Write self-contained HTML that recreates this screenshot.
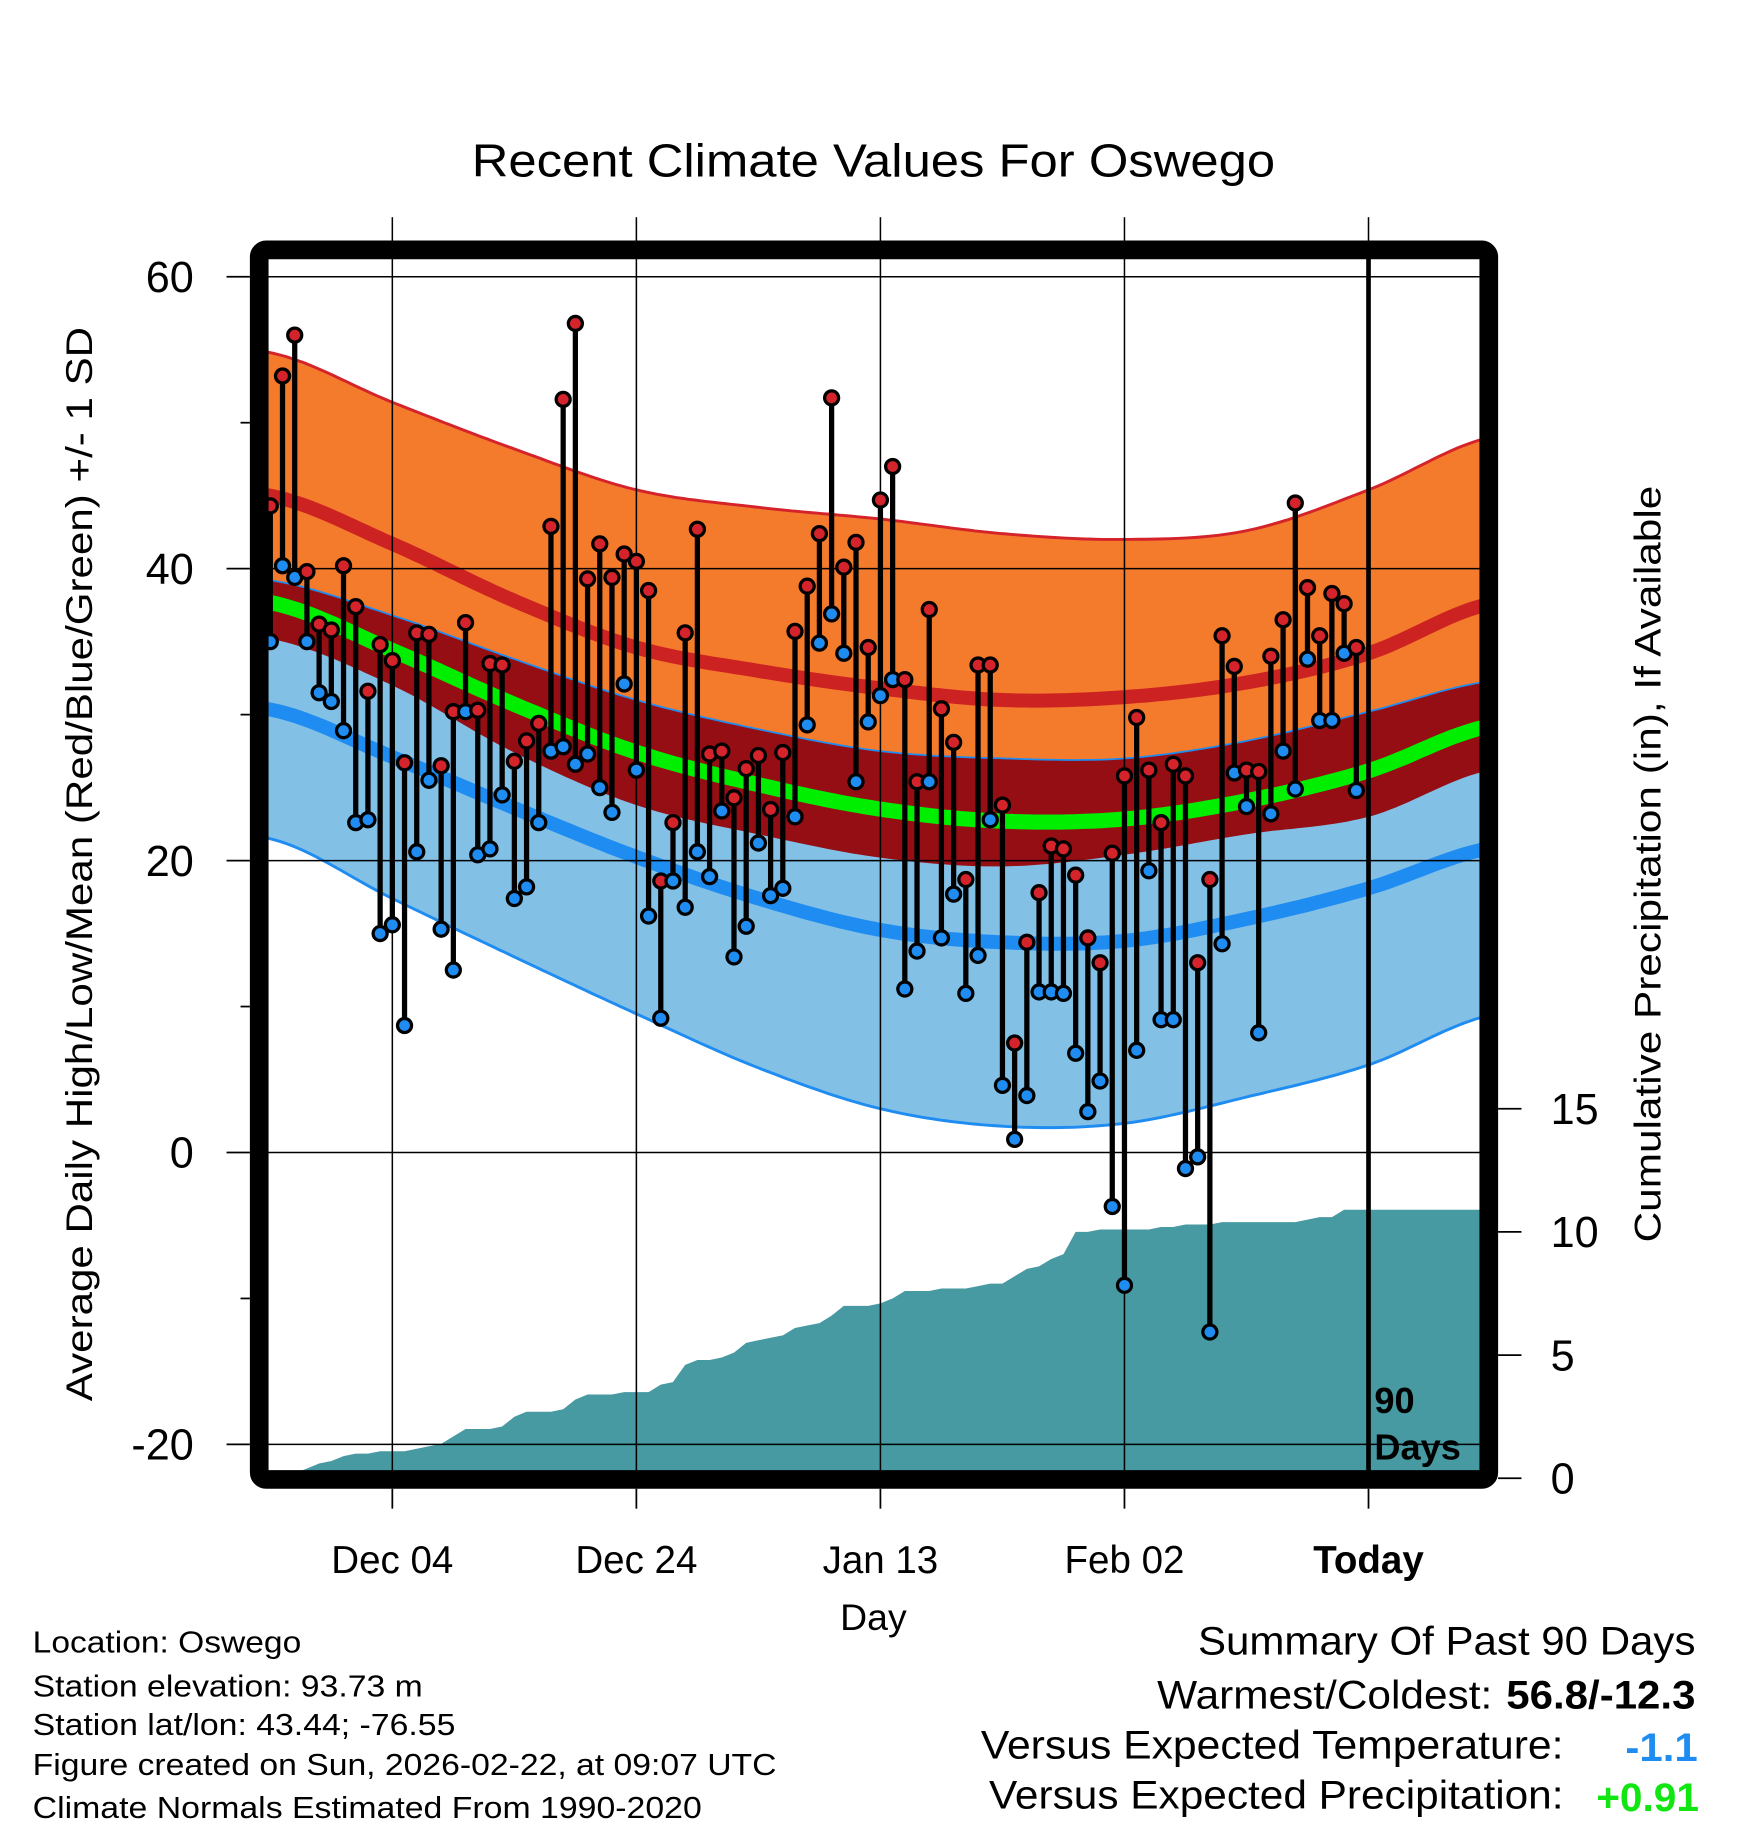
<!DOCTYPE html>
<html><head><meta charset="utf-8"><style>
html,body{margin:0;padding:0;background:#fff;}
svg{display:block;font-family:"Liberation Sans",sans-serif;}
</style></head><body>
<svg id="chart" width="1748" height="1828" viewBox="0 0 1497 1565.5" preserveAspectRatio="none" xmlns="http://www.w3.org/2000/svg">
<text x="748" y="151" font-size="40" text-anchor="middle" textLength="688" lengthAdjust="spacingAndGlyphs">Recent Climate Values For Oswego</text>
<g id="plot"></g>
<text transform="translate(79,740) rotate(-90)" font-size="32" text-anchor="middle" textLength="920" lengthAdjust="spacingAndGlyphs">Average Daily High/Low/Mean (Red/Blue/Green) +/- 1 SD</text>
<text transform="translate(1422,740) rotate(-90)" font-size="32" text-anchor="middle" textLength="648" lengthAdjust="spacingAndGlyphs">Cumulative Precipitation (in), If Available</text>
<text x="748" y="1396" font-size="32" text-anchor="middle">Day</text>
<g font-size="26">
<text x="28" y="1415" textLength="230" lengthAdjust="spacingAndGlyphs">Location: Oswego</text>
<text x="28" y="1453" textLength="334" lengthAdjust="spacingAndGlyphs">Station elevation: 93.73 m</text>
<text x="28" y="1486" textLength="362" lengthAdjust="spacingAndGlyphs">Station lat/lon: 43.44; -76.55</text>
<text x="28" y="1520" textLength="637" lengthAdjust="spacingAndGlyphs">Figure created on Sun, 2026-02-22, at 09:07 UTC</text>
<text x="28" y="1557" textLength="573" lengthAdjust="spacingAndGlyphs">Climate Normals Estimated From 1990-2020</text>
</g>
<g font-size="34">
<text x="1452" y="1417" text-anchor="end" textLength="426" lengthAdjust="spacingAndGlyphs">Summary Of Past 90 Days</text>
<text x="1278" y="1463" text-anchor="end" textLength="287" lengthAdjust="spacingAndGlyphs">Warmest/Coldest:</text>
<text x="1452" y="1463" text-anchor="end" font-weight="bold" textLength="162" lengthAdjust="spacingAndGlyphs">56.8/-12.3</text>
<text x="1339" y="1506" text-anchor="end" textLength="499" lengthAdjust="spacingAndGlyphs">Versus Expected Temperature:</text>
<text x="1454" y="1508" text-anchor="end" font-weight="bold" fill="#1e8cf0" textLength="62" lengthAdjust="spacingAndGlyphs">-1.1</text>
<text x="1339" y="1549" text-anchor="end" textLength="492" lengthAdjust="spacingAndGlyphs">Versus Expected Precipitation:</text>
<text x="1455" y="1551" text-anchor="end" font-weight="bold" fill="#12e612" textLength="88" lengthAdjust="spacingAndGlyphs">+0.91</text>
</g>
</svg>
<script>
// Normals at knots every 10 days starting Nov 24 (day 0)
const knotDays = [0,10,20,30,40,50,60,70,80,90,100];
const highMean = [45.0,41.7,37.8,34.6,33.0,31.8,31.0,31.2,32.2,34.2,37.6];
const highSD   = [9.8,9.7,10.4,10.8,11.2,11.6,11.4,10.8,10.4,11.2,11.4];
const lowMean  = [30.35,27.1,23.6,20.25,17.4,15.25,14.4,14.5,16.0,18.1,20.85];
const lowSD    = [8.85,9.7,10.2,10.75,11.6,12.25,12.6,12.5,12.2,12.1,11.45];
// Daily observations Nov 24 .. Feb 21
const highs = [44.3,53.2,56.0,39.8,36.2,35.8,40.2,37.4,31.6,34.8,33.7,26.7,35.6,35.5,26.5,30.2,36.3,30.3,33.5,33.4,26.8,28.2,29.4,42.9,51.6,56.8,39.3,41.7,39.4,41.0,40.5,38.5,18.6,22.6,35.6,42.7,27.3,27.5,24.3,26.3,27.2,23.5,27.4,35.7,38.8,42.4,51.7,40.1,41.8,34.6,44.7,47.0,32.4,25.4,37.2,30.4,28.1,18.7,33.4,33.4,23.8,7.5,14.4,17.8,21.0,20.8,19.0,14.7,13.0,20.5,25.8,29.8,26.2,22.6,26.6,25.8,13.0,18.7,35.4,33.3,26.2,26.1,34.0,36.5,44.5,38.7,35.4,38.3,37.6,34.6];
const lows  = [35.0,40.2,39.4,35.0,31.5,30.9,28.9,22.6,22.8,15.0,15.6,8.7,20.6,25.5,15.3,12.5,30.2,20.4,20.8,24.5,17.4,18.2,22.6,27.5,27.8,26.6,27.3,25.0,23.3,32.1,26.2,16.2,9.2,18.6,16.8,20.6,18.9,23.4,13.4,15.5,21.2,17.6,18.1,23.0,29.3,34.9,36.9,34.2,25.4,29.5,31.3,32.4,11.2,13.8,25.4,14.7,17.7,10.9,13.5,22.8,4.6,0.9,3.9,11.0,11.0,10.9,6.8,2.8,4.9,-3.7,-9.1,7.0,19.3,9.1,9.1,-1.1,-0.3,-12.3,14.3,26.0,23.7,8.2,23.2,27.5,24.9,33.8,29.6,29.6,34.2,24.8];
const precip = [0.0,0.1,0.2,0.4,0.6,0.7,0.9,1.0,1.0,1.1,1.1,1.1,1.2,1.3,1.4,1.7,2.0,2.0,2.0,2.1,2.5,2.7,2.7,2.7,2.8,3.2,3.4,3.4,3.4,3.5,3.5,3.5,3.8,3.9,4.6,4.8,4.8,4.9,5.1,5.5,5.6,5.7,5.8,6.1,6.2,6.3,6.6,7.0,7.0,7.0,7.1,7.3,7.6,7.6,7.6,7.7,7.7,7.7,7.8,7.9,7.9,8.2,8.5,8.6,8.9,9.1,10.0,10.0,10.1,10.1,10.1,10.1,10.1,10.2,10.2,10.3,10.3,10.3,10.4,10.4,10.4,10.4,10.4,10.4,10.4,10.5,10.6,10.6,10.9,10.9];
const yTicks = [60,40,20,0,-20];
const yMinor = [50,30,10,-10];
const pTicks = [0,5,10,15];
const xTickDays = [10,30,50,70,90];
const xTickLabels = ["Dec 04","Dec 24","Jan 13","Feb 02","Today"];

const NS="http://www.w3.org/2000/svg";
const X0=229, X1=1270, Y0=216, Y1=1260;
const xs = d => 231.5 + 10.45*d;
const ys = v => 987 - 12.5*v;
const yp = p => 1266 - 21.1*p;
const g = document.getElementById('plot');
function el(tag, attrs, parent){const e=document.createElementNS(NS,tag);for(const k in attrs)e.setAttribute(k,attrs[k]);(parent||g).appendChild(e);return e;}
function interp(arr,d){
  let i=Math.floor(d/10); if(i<0)i=0; if(i>knotDays.length-2)i=knotDays.length-2;
  const t=(d-knotDays[i])/10;
  const p0=arr[Math.max(i-1,0)],p1=arr[i],p2=arr[i+1],p3=arr[Math.min(i+2,arr.length-1)];
  return 0.5*((2*p1)+(-p0+p2)*t+(2*p0-5*p1+4*p2-p3)*t*t+(-p0+3*p1-3*p2+p3)*t*t*t);
}
const dStart=(X0-231.5)/10.45, dEnd=(X1-231.5)/10.45;
function curve(fn){const pts=[];for(let d=dStart;d<=dEnd+0.001;d+=0.5)pts.push([xs(d),ys(fn(d))]);return pts;}
const hiTop=curve(d=>interp(highMean,d)+interp(highSD,d));
const hiMid=curve(d=>interp(highMean,d));
const hiBot=curve(d=>interp(highMean,d)-interp(highSD,d));
const loTop=curve(d=>interp(lowMean,d)+interp(lowSD,d));
const loMid=curve(d=>interp(lowMean,d));
const loBot=curve(d=>interp(lowMean,d)-interp(lowSD,d));
const mean=curve(d=>(interp(highMean,d)+interp(lowMean,d))/2);
const P=a=>a.map(p=>p[0].toFixed(1)+','+p[1].toFixed(1)).join(' ');
const band=(a,b)=>P(a)+' '+P(b.slice().reverse());

const clip=el('clipPath',{id:'pc'});el('rect',{x:X0,y:Y0,width:X1-X0,height:Y1-Y0},clip);
const inner=el('g',{'clip-path':'url(#pc)'});
let e;
e=el('polygon',{points:band(hiTop,hiBot),fill:'#f47a2c'},inner);


e=el('polygon',{points:band(loTop,loBot),fill:'#82c0e6'},inner);


e=el('polygon',{points:band(loTop,hiBot),fill:'#940e14'},inner);


el('polyline',{points:P(hiTop),fill:'none',stroke:'#d4232a','stroke-width':2.5},inner);
el('polyline',{points:P(loTop),fill:'none',stroke:'#1e8cf0','stroke-width':1.5},inner);
el('polyline',{points:P(loBot),fill:'none',stroke:'#1e8cf0','stroke-width':2.5},inner);
e=el('polyline',{points:P(hiMid),fill:'none',stroke:'#cc2222','stroke-width':12},inner);


e=el('polyline',{points:P(loMid),fill:'none',stroke:'#1e8cf0','stroke-width':12},inner);


e=el('polyline',{points:P(mean),fill:'none',stroke:'#00ee00','stroke-width':13},inner);


let pp=[[xs(0),yp(0)]];
precip.forEach((v,i)=>pp.push([xs(i),yp(v)]));
pp.push([X1,yp(precip[precip.length-1])]);pp.push([X1,yp(0)]);
e=el('polygon',{points:P(pp),fill:'#4799a2'},inner);


yTicks.forEach(v=>{el('line',{x1:X0,x2:X1,y1:ys(v),y2:ys(v),stroke:'#000','stroke-width':1.3},inner);});
xTickDays.forEach((d,i)=>{if(i<4)el('line',{x1:xs(d),x2:xs(d),y1:Y0,y2:Y1,stroke:'#000','stroke-width':1.3},inner);});
highs.forEach((h,i)=>{
  const x=xs(i);
  e=el('line',{x1:x,x2:x,y1:ys(h),y2:ys(lows[i]),stroke:'#000','stroke-width':4.5},inner);
  
  
});
highs.forEach((h,i)=>{
  const x=xs(i);
  e=el('circle',{cx:x,cy:ys(lows[i]),r:6,fill:'#1e8cf0',stroke:'#000','stroke-width':2.8},inner);
  
  
  e=el('circle',{cx:x,cy:ys(h),r:6,fill:'#d4232a',stroke:'#000','stroke-width':2.8},inner);
  
  
});
e=el('line',{x1:xs(90),x2:xs(90),y1:207,y2:1270,stroke:'#000','stroke-width':4});


e=el('rect',{x:222,y:214,width:1053,height:1053,rx:6,fill:'none',stroke:'#000','stroke-width':16});


e=el('text',{x:1177,y:1210,'font-size':31,'font-weight':'bold'});e.textContent='90';


e=el('text',{x:1177,y:1250,'font-size':31,'font-weight':'bold'});e.textContent='Days';
yTicks.forEach(v=>{
  el('line',{x1:194,x2:214,y1:ys(v),y2:ys(v),stroke:'#000','stroke-width':1.5});
  e=el('text',{x:166,y:ys(v)+13,'font-size':37,'text-anchor':'end'});e.textContent=v;
  
  
});
yMinor.forEach(v=>{el('line',{x1:206,x2:214,y1:ys(v),y2:ys(v),stroke:'#000','stroke-width':1.5});});
pTicks.forEach(p=>{
  el('line',{x1:1283,x2:1303,y1:yp(p),y2:yp(p),stroke:'#000','stroke-width':1.5});
  e=el('text',{x:1328,y:yp(p)+13,'font-size':37});e.textContent=p;
  
  
});
xTickDays.forEach((d,i)=>{
  el('line',{x1:xs(d),x2:xs(d),y1:186,y2:207,stroke:'#000','stroke-width':1.3});
  el('line',{x1:xs(d),x2:xs(d),y1:1275,y2:1292,stroke:'#000','stroke-width':1.5});
  e=el('text',{x:xs(d),y:1347,'font-size':33,'text-anchor':'middle','font-weight':i==4?'bold':'normal'});e.textContent=xTickLabels[i];
  
  
});
</script>
</body></html>
